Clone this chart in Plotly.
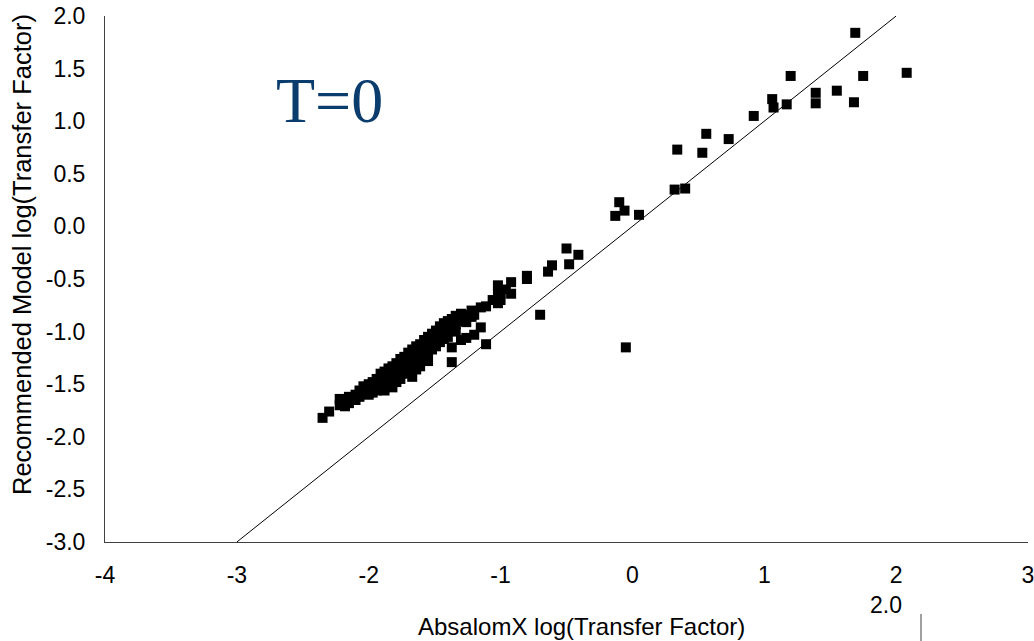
import plotly.graph_objects as go

# Cluster and scattered points: AbsalomX log(TF) vs Recommended Model log(TF)
absalom_x = [
    -2.35, -2.30, -2.22, -2.22, -2.18, -2.18, -2.15, -2.15, -2.10, -2.10,
    -2.07, -2.07, -2.04, -2.04, -2.00, -2.00, -2.00, -1.97, -1.97, -1.97,
    -1.94, -1.94, -1.94, -1.91, -1.91, -1.91, -1.88, -1.88, -1.88, -1.88,
    -1.85, -1.85, -1.85, -1.82, -1.82, -1.82, -1.82, -1.79, -1.79, -1.79,
    -1.79, -1.76, -1.76, -1.76, -1.76, -1.73, -1.73, -1.73, -1.70, -1.70,
    -1.70, -1.70, -1.67, -1.67, -1.67, -1.67, -1.64, -1.64, -1.64, -1.64,
    -1.61, -1.61, -1.61, -1.61, -1.58, -1.58, -1.58, -1.55, -1.55, -1.55,
    -1.55, -1.52, -1.52, -1.52, -1.49, -1.49, -1.49, -1.46, -1.46, -1.46,
    -1.43, -1.43, -1.43, -1.40, -1.40, -1.40, -1.37, -1.37, -1.37, -1.37,
    -1.34, -1.34, -1.34, -1.30, -1.30, -1.30, -1.26, -1.26, -1.26, -1.22,
    -1.22, -1.20, -1.20, -1.15, -1.15, -1.11, -1.11, -1.06, -1.02, -1.02,
    -1.02, -1.00, -1.00, -0.96, -0.92, -0.92, -0.80, -0.80, -0.70, -0.64,
    -0.61, -0.50, -0.48, -0.41,
    -0.13, -0.10, -0.06, 0.05, -0.05, 0.32, 0.40, 0.34, 0.53, 0.56,
    0.73, 0.92, 1.06, 1.07, 1.17, 1.20, 1.39, 1.39, 1.55, 1.68,
    1.69, 1.75, 2.08,
]
recommended_y = [
    -1.82, -1.76, -1.64, -1.70, -1.66, -1.71, -1.62, -1.68, -1.60, -1.65,
    -1.56, -1.62, -1.58, -1.52, -1.55, -1.50, -1.60, -1.48, -1.53, -1.58,
    -1.45, -1.50, -1.56, -1.40, -1.47, -1.53, -1.38, -1.44, -1.50, -1.56,
    -1.35, -1.42, -1.48, -1.33, -1.39, -1.45, -1.53, -1.30, -1.36, -1.42,
    -1.48, -1.26, -1.33, -1.40, -1.45, -1.24, -1.30, -1.37, -1.20, -1.27,
    -1.33, -1.40, -1.17, -1.25, -1.31, -1.43, -1.14, -1.22, -1.29, -1.36,
    -1.12, -1.18, -1.26, -1.33, -1.08, -1.15, -1.23, -1.05, -1.12, -1.20,
    -1.28, -1.02, -1.10, -1.17, -0.99, -1.06, -1.14, -0.95, -1.03, -1.10,
    -0.92, -1.00, -1.07, -0.90, -0.97, -1.05, -0.88, -0.95, -1.29, -1.15,
    -0.85, -0.93, -1.00, -0.83, -0.90, -1.08, -0.84, -0.91, -1.06, -0.80,
    -0.86, -0.84, -1.03, -0.77, -0.96, -0.76, -1.12, -0.70, -0.56, -0.64,
    -0.73, -0.64, -0.70, -0.60, -0.53, -0.64, -0.47, -0.50, -0.84, -0.43,
    -0.37, -0.21, -0.36, -0.27,
    0.10, 0.23, 0.15, 0.11, -1.15, 0.35, 0.36, 0.73, 0.70, 0.88,
    0.83, 1.05, 1.21, 1.13, 1.16, 1.43, 1.27, 1.17, 1.29, 1.18,
    1.84, 1.43, 1.46,
]

# 1:1 reference line
line_x = [-3, 2]
line_y = [-3, 2]

x_ticks = [-4, -3, -2, -1, 0, 1, 2, 3]
y_ticks = [-3.0, -2.5, -2.0, -1.5, -1.0, -0.5, 0.0, 0.5, 1.0, 1.5, 2.0]

FONT = "Liberation Sans, Arial, sans-serif"
L, R, T, B = 105, 6, 16, 99
PW = 1034 - L - R

fig = go.Figure()
fig.add_trace(go.Scatter(x=line_x, y=line_y, mode="lines",
                         line=dict(color="black", width=1), hoverinfo="skip"))
fig.add_trace(go.Scatter(x=absalom_x, y=recommended_y, mode="markers",
                         marker=dict(symbol="square", size=10, color="black",
                                     line=dict(width=0))))

fig.update_layout(
    width=1034, height=641,
    margin=dict(l=L, r=R, t=T, b=B, pad=0),
    paper_bgcolor="white", plot_bgcolor="white",
    showlegend=False,
    font=dict(family=FONT, size=23, color="black"),
    xaxis=dict(range=[-4, 3], tickvals=x_ticks, ticktext=[str(v) for v in x_ticks],
               showgrid=False, zeroline=False, showline=True, linecolor="#404040",
               linewidth=1, ticks="", ticklabelstandoff=12, ticklabeloverflow="allow",
               automargin=False,
               tickfont=dict(family=FONT, size=23, color="black")),
    yaxis=dict(range=[-3, 2], tickvals=y_ticks, ticktext=[f"{v:.1f}" for v in y_ticks],
               showgrid=False, zeroline=False, showline=True, linecolor="#404040",
               linewidth=1, ticks="", ticklabelstandoff=14, ticklabeloverflow="allow",
               automargin=False,
               tickfont=dict(family=FONT, size=23, color="black")),
    annotations=[
        dict(text="AbsalomX log(Transfer Factor)", xref="paper", yref="paper",
             x=(581 - L) / PW, y=-(626 - 542) / 526, xanchor="center", yanchor="middle",
             showarrow=False, font=dict(family=FONT, size=24, color="black")),
        dict(text="Recommended Model log(Transfer Factor)", xref="paper", yref="paper",
             x=-(L - 22) / PW, y=(542 - 255) / 526, xanchor="center", yanchor="middle",
             textangle=-90, showarrow=False,
             font=dict(family=FONT, size=25.5, color="black")),
        dict(text="T=0", xref="paper", yref="paper",
             x=(329 - L) / PW, y=(542 - 100) / 526, xanchor="center", yanchor="middle",
             showarrow=False,
             font=dict(family="Liberation Serif, Times New Roman, serif", size=64,
                       color="#0B3C6E")),
        dict(text="2.0", xref="paper", yref="paper",
             x=(886 - L) / PW, y=-(605 - 542) / 526, xanchor="center", yanchor="middle",
             showarrow=False, font=dict(family=FONT, size=23, color="black")),
    ],
    shapes=[
        dict(type="line", xref="paper", yref="paper",
             x0=(921 - L) / PW, x1=(921 - L) / PW,
             y0=-(614 - 542) / 526, y1=-(641 - 542) / 526,
             line=dict(color="#404040", width=1)),
    ],
)

fig.write_html("out.html")
